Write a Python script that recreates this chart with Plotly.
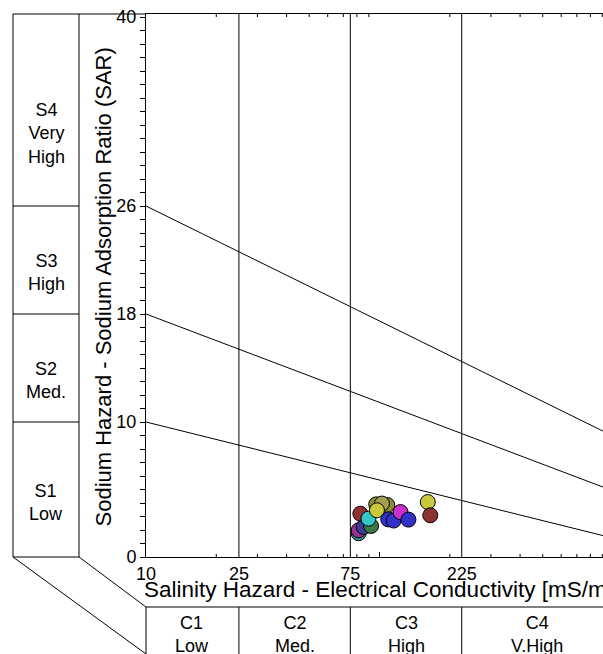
import numpy as np
import plotly.graph_objects as go

# Water samples: electrical conductivity (mS/m) and sodium adsorption ratio
ec = [81.4, 81.4, 85.5, 82.8, 92.0, 105.0, 96.8, 108.0, 102.5, 89.7, 97.5, 109.0, 115.0,
      123.0, 133.0, 161.0, 165.0]
sar = [1.76, 1.98, 2.22, 3.21, 2.30, 3.75, 3.90, 3.85, 3.96, 2.84, 3.46, 2.79, 2.70,
       3.33, 2.77, 4.07, 3.09]
colors = ["#329696", "#963296", "#3c3c96", "#8c3232", "#3c7846", "#c832c8", "#8c8c32",
          "#8c8c32", "#a0a050", "#32c8c8", "#c8c83c", "#3232c8", "#3232c8", "#c832c8",
          "#3232c8", "#c8c83c", "#8c3232"]

# Salinity (C) classes along the x axis
ec_bounds = [10, 25, 75, 225, 1000]
ec_class_labels = ["C1<br>Low", "C2<br>Med.", "C3<br>High", "C4<br>V.High"]
ec_tick_vals = [10, 25, 75, 225]
ec_minor_ticks = [20, 30, 40, 50, 60, 70, 80, 90, 200, 300, 400, 500, 600, 700, 800, 900]

# Sodium (S) classes along the y axis
sar_bounds = [0, 10, 18, 26]
sar_class_labels = ["S1<br>Low", "S2<br>Med.", "S3<br>High", "S4<br>Very<br>High"]
sar_tick_vals = [0, 10, 18, 26, 40]

# Class boundary lines: SAR at EC = 10 and EC = 1000
line_ec = [10, 1000]
line_sar = [[10, 1.4], [18, 4.9], [26, 8.96]]

W, H = 603, 654
L, T, B = 146, 14, 97
PW, PH = W - L, H - T - B
PX_PER_DEC = 233.5
PX_PER_SAR = 13.5
x_range = [1, 1 + PW / PX_PER_DEC]
y_max = PH / PX_PER_SAR

FONT = "Liberation Sans, Arial, sans-serif"


def px(xp):
    return (xp - L) / PW


def py(yp):
    return (H - B - yp) / PH


fig = go.Figure()

for s in line_sar:
    fig.add_trace(go.Scatter(x=line_ec, y=s, mode="lines",
                             line=dict(color="black", width=1), hoverinfo="skip",
                             showlegend=False))

fig.add_trace(go.Scatter(
    x=ec, y=sar, mode="markers",
    marker=dict(size=15, color=colors, line=dict(color="black", width=1), opacity=1),
    showlegend=False))

shapes = []
line = dict(color="black", width=1)

# vertical class separators inside the plot and in the bottom class strip
for v in ec_bounds[1:4]:
    shapes.append(dict(type="line", xref="x", yref="paper", x0=v, x1=v, y0=0, y1=1, line=line))
    shapes.append(dict(type="line", xref="x", yref="paper", x0=v, x1=v,
                       y0=py(607), y1=py(660), line=line))

# minor ticks on bottom and top axes
for v in ec_minor_ticks:
    shapes.append(dict(type="line", xref="x", yref="paper", x0=v, x1=v, y0=0, y1=3 / PH, line=line))
    shapes.append(dict(type="line", xref="x", yref="paper", x0=v, x1=v, y0=1, y1=1 - 3 / PH, line=line))
shapes.append(dict(type="line", xref="x", yref="paper", x0=100, x1=100, y0=0, y1=5 / PH, line=line))

# left sodium class column
shapes.append(dict(type="line", xref="paper", yref="paper", x0=px(13), x1=0, y0=1, y1=1, line=line))
for xp in (13, 79):
    shapes.append(dict(type="line", xref="paper", yref="paper", x0=px(xp), x1=px(xp), y0=0, y1=1, line=line))
for b in sar_bounds:
    shapes.append(dict(type="line", xref="paper", yref="paper", x0=px(13), x1=px(79),
                       y0=b / y_max, y1=b / y_max, line=line))

# connecting diagonals
shapes.append(dict(type="line", xref="paper", yref="paper", x0=px(13), y0=0, x1=0, y1=py(654), line=line))
shapes.append(dict(type="line", xref="paper", yref="paper", x0=px(79), y0=0, x1=0, y1=py(607), line=line))

# bottom salinity class strip
shapes.append(dict(type="line", xref="paper", yref="paper", x0=0, x1=1, y0=py(607), y1=py(607), line=line))
shapes.append(dict(type="line", xref="paper", yref="paper", x0=0, x1=0, y0=py(607), y1=py(660), line=line))

annotations = []
# sodium class labels: text block starts a little above the middle of each band
for i, lab in enumerate(sar_class_labels):
    lo = sar_bounds[i]
    hi = sar_bounds[i + 1] if i + 1 < len(sar_bounds) else y_max
    mid_px = H - B - (lo + hi) / 2 * PX_PER_SAR
    n_lines = lab.count("<br>") + 1
    centre_px = mid_px - 5 + (13 + (n_lines - 1) * 22) / 2
    annotations.append(dict(text=lab, xref="paper", yref="paper", x=px(46),
                            y=py(centre_px), xanchor="center", yanchor="middle",
                            showarrow=False, font=dict(size=18, color="black", family=FONT)))

# salinity class labels
for i, lab in enumerate(ec_class_labels):
    mid = (np.log10(ec_bounds[i]) + np.log10(ec_bounds[i + 1])) / 2
    annotations.append(dict(text=lab, xref="x", yref="paper", x=mid, y=py(611),
                            xanchor="center", yanchor="top", showarrow=False,
                            font=dict(size=18, color="black", family=FONT)))

annotations.append(dict(text="Salinity Hazard - Electrical Conductivity [mS/m]",
                        xref="paper", yref="paper", x=px(142), y=py(589),
                        xanchor="left", yanchor="middle", showarrow=False,
                        font=dict(size=22.5, color="black", family=FONT)))
annotations.append(dict(text="Sodium Hazard - Sodium Adsorption Ratio (SAR)",
                        xref="paper", yref="paper", x=px(103.5), y=py(287),
                        xanchor="center", yanchor="middle", textangle=-90, showarrow=False,
                        font=dict(size=22, color="black", family=FONT)))

fig.update_layout(
    width=W, height=H,
    margin=dict(l=L, r=0, t=T, b=B, pad=0),
    paper_bgcolor="white", plot_bgcolor="white",
    shapes=shapes, annotations=annotations,
    font=dict(family=FONT, color="black"),
    xaxis=dict(type="log", range=x_range, tickvals=ec_tick_vals,
               ticktext=[str(v) for v in ec_tick_vals], ticks="", showgrid=False,
               zeroline=False, showline=True, linecolor="black", linewidth=1, mirror=True,
               tickfont=dict(size=18, color="black", family=FONT)),
    yaxis=dict(range=[0, y_max], tickvals=sar_tick_vals, ticks="outside", ticklen=5,
               tickcolor="black", showgrid=False, zeroline=False, showline=True,
               linecolor="black", linewidth=1, mirror=False,
               minor=dict(dtick=1, ticks="outside", ticklen=5, tickcolor="black", showgrid=False),
               tickfont=dict(size=18, color="black", family=FONT)),
)

fig.write_html("out.html")
